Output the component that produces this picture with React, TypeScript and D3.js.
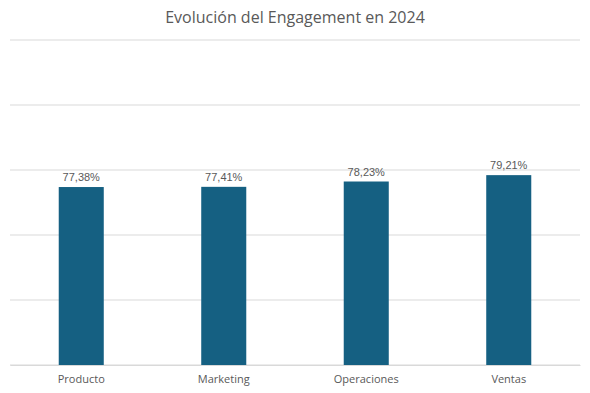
import React, { useEffect, useRef } from 'react';
import * as d3 from 'd3';

const categories = ['Producto', 'Marketing', 'Operaciones', 'Ventas'];
const engagement = [77.38, 77.41, 78.23, 79.21];
const yTicks = [50, 60, 70, 80, 90, 100];

function App() {
  const svgRef = useRef<SVGSVGElement>(null);

  useEffect(() => {
    const svg = d3.select(svgRef.current);
    svg.selectAll('*').remove();

    const width = 590;
    const height = 393;
    const left = 10;
    const right = 580;
    const top = 40;
    const bottom = 365;

    const data = categories.map((c, i) => ({ cat: c, value: engagement[i] }));

    // x bands, bars are narrow
    const x = d3.scaleBand()
      .domain(categories)
      .range([left, right])
      .paddingInner(0.684)
      .paddingOuter(0.342);

    const y = d3.scaleLinear()
      .domain([50, 100])
      .range([bottom, top]);

    svg.append('rect')
      .attr('width', width)
      .attr('height', height)
      .attr('fill', '#ffffff');

    // gridlines
    svg.append('g')
      .selectAll('line')
      .data(yTicks)
      .join('line')
      .attr('x1', left)
      .attr('x2', right)
      .attr('y1', d => y(d))
      .attr('y2', d => y(d))
      .attr('stroke', '#d9d9d9')
      .attr('stroke-width', 1);

    // bars
    svg.append('g')
      .selectAll('rect')
      .data(data)
      .join('rect')
      .attr('x', d => x(d.cat)!)
      .attr('y', d => y(d.value))
      .attr('width', x.bandwidth())
      .attr('height', d => bottom - y(d.value))
      .attr('fill', '#156082');

    // data labels
    svg.append('g')
      .selectAll('text')
      .data(data)
      .join('text')
      .attr('x', d => x(d.cat)! + x.bandwidth() / 2)
      .attr('y', d => y(d.value) - 6)
      .attr('text-anchor', 'middle')
      .attr('font-family', 'Liberation Sans, Arial, sans-serif')
      .attr('font-size', 11)
      .attr('fill', '#595959')
      .text(d => d.value.toFixed(2).replace('.', ',') + '%');

    // category axis
    const xAxis = svg.append('g')
      .attr('transform', `translate(0, ${bottom})`)
      .call(d3.axisBottom(x).tickSize(0).tickPadding(10));
    xAxis.select('.domain').attr('stroke', '#d9d9d9');
    xAxis.selectAll('text')
      .attr('font-family', 'Open Sans, sans-serif')
      .attr('font-size', 11)
      .attr('fill', '#595959');

    // title
    svg.append('text')
      .attr('x', width / 2)
      .attr('y', 23)
      .attr('text-anchor', 'middle')
      .attr('font-family', 'Open Sans, sans-serif')
      .attr('font-size', 16)
      .attr('fill', '#595959')
      .text('Evolución del Engagement en 2024');
  }, []);

  return (
    <svg
      ref={svgRef}
      width={590}
      height={393}
      style={{ position: 'absolute', left: 0, top: 0 }}
    />
  );
}

export default App;
